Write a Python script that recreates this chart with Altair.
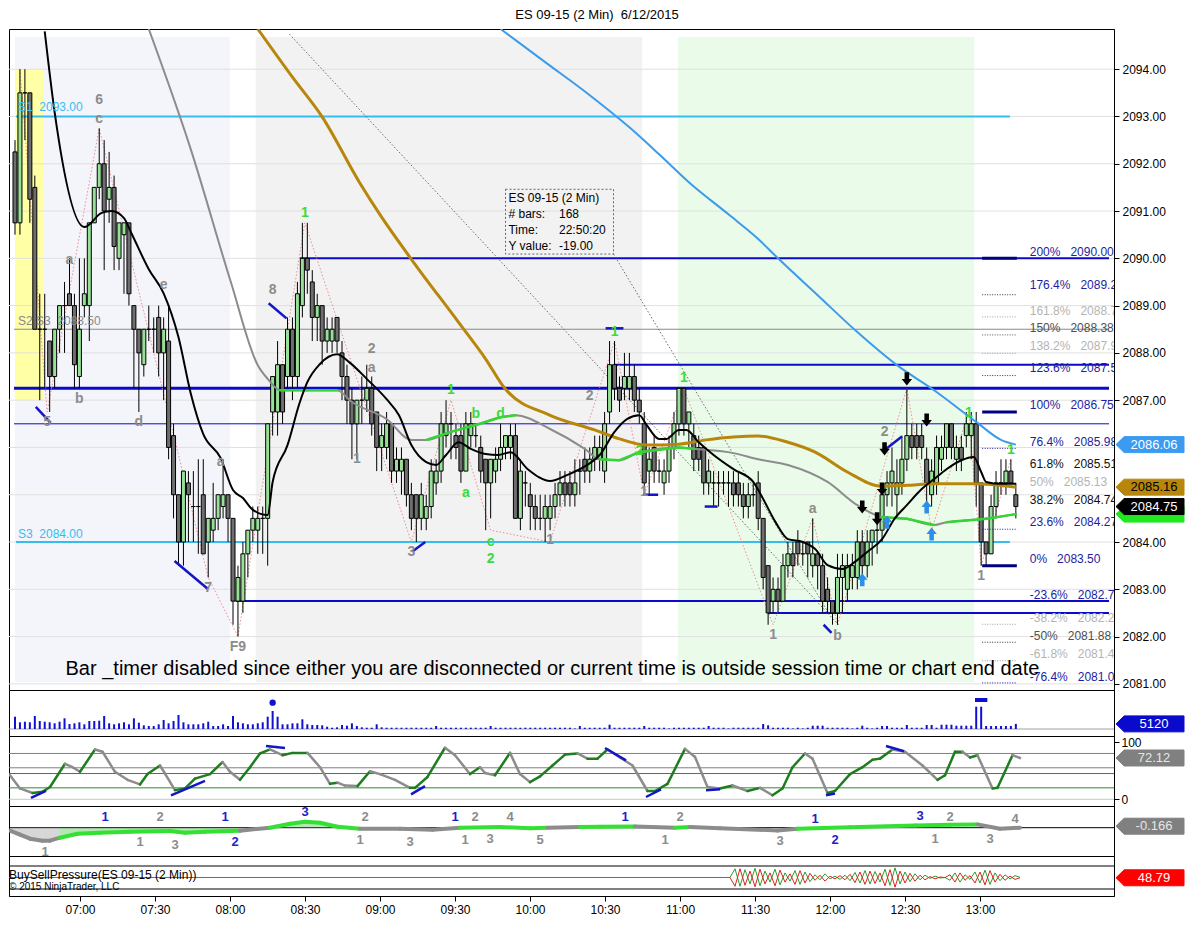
import altair as alt
import pandas as pd

DAY = "2015-06-12 "
FONT = "Liberation Sans"
W = 1105
SP = "\u00a0\u00a0\u00a0"

# 2-minute ES bars, first bar 06:32
bar_open = [
    2092.25, 2090.75, 2093.5, 2093.5, 2091.5, 2088.5, 2088.5, 2088.25, 2087.5, 2088.5,
    2089.0, 2089.25, 2089.0, 2087.5, 2089.0, 2089.0, 2090.75, 2091.5, 2092.0, 2091.25,
    2091.5, 2090.0, 2090.5, 2090.75, 2089.0, 2088.5, 2087.75, 2088.5, 2088.5, 2088.75,
    2088.0, 2088.25, 2086.25, 2085.0, 2084.0, 2085.25, 2084.75, 2084.75, 2085.0, 2084.0,
    2084.25, 2084.5, 2084.75, 2085.0, 2084.5, 2082.75, 2082.75, 2083.75, 2084.25, 2084.25,
    2084.5, 2084.5, 2086.75, 2086.75, 2087.75, 2087.5, 2088.5, 2087.5, 2089.0, 2090.0,
    2089.5, 2088.75, 2089.0, 2088.25, 2088.25, 2088.75, 2088.0, 2087.5, 2087.0, 2086.5,
    2087.0, 2087.0, 2087.25, 2086.75, 2086.0, 2086.0, 2086.5, 2085.5, 2085.5, 2085.75,
    2085.0, 2085.0, 2084.5, 2084.5, 2084.75, 2085.25, 2085.5, 2086.25, 2086.5, 2086.25,
    2086.25, 2085.5, 2086.25, 2086.25, 2086.0, 2085.75, 2085.25, 2085.5, 2085.75, 2086.0,
    2086.0, 2086.25, 2084.5, 2085.25, 2085.0, 2084.75, 2084.5, 2084.5, 2084.5, 2084.75,
    2085.0, 2085.25, 2085.25, 2085.0, 2085.5, 2085.75, 2085.5, 2085.75, 2085.75, 2085.5,
    2086.75, 2087.75, 2087.25, 2087.25, 2087.25, 2087.5, 2087.0, 2086.5, 2085.5, 2086.0,
    2085.5, 2085.25, 2085.5, 2086.0, 2086.5, 2087.25, 2086.5, 2086.25, 2086.0, 2086.0,
    2085.25, 2085.25, 2085.25, 2085.25, 2085.25, 2085.25, 2085.25, 2085.0, 2084.75, 2085.0,
    2085.25, 2084.5, 2083.5, 2082.75, 2083.0, 2082.75, 2083.5, 2083.75, 2084.0, 2083.75,
    2084.0, 2083.5, 2083.75, 2083.5, 2083.0, 2082.75, 2082.5, 2083.25, 2083.0, 2083.25,
    2083.25, 2084.0, 2083.5, 2084.0, 2084.25, 2084.25, 2085.0, 2085.25, 2085.0, 2085.25,
    2085.75, 2086.25, 2086.25, 2086.25, 2085.75, 2085.0, 2085.25, 2085.75, 2086.0, 2086.5,
    2085.75, 2086.0, 2086.25, 2086.25, 2086.5, 2085.25, 2084.0, 2083.75, 2084.75, 2085.25,
    2085.25, 2085.5, 2085.0,
]
bar_high = [
    2092.5, 2094.0, 2094.0, 2093.5, 2091.75, 2089.25, 2089.25, 2088.25, 2088.5, 2089.0,
    2089.5, 2090.0, 2089.25, 2090.0, 2090.0, 2090.75, 2091.5, 2092.75, 2092.5, 2092.25,
    2091.75, 2090.75, 2090.75, 2090.75, 2089.0, 2088.5, 2088.5, 2089.0, 2088.75, 2089.0,
    2088.75, 2089.0, 2086.5, 2085.0, 2085.5, 2085.5, 2085.5, 2085.75, 2085.75, 2084.5,
    2085.25, 2085.0, 2085.75, 2085.0, 2084.5, 2083.5, 2084.0, 2084.25, 2084.75, 2084.75,
    2084.75, 2086.5, 2087.5, 2088.25, 2087.75, 2088.75, 2088.75, 2089.5, 2090.75, 2090.75,
    2089.75, 2089.25, 2089.0, 2088.75, 2088.75, 2088.75, 2088.25, 2087.75, 2087.25, 2087.0,
    2087.5, 2087.75, 2087.5, 2086.75, 2086.5, 2086.75, 2086.5, 2086.0, 2086.0, 2085.75,
    2085.25, 2085.0, 2085.25, 2085.0, 2085.75, 2085.75, 2086.75, 2087.0, 2086.75, 2086.5,
    2086.5, 2086.75, 2086.75, 2086.5, 2086.25, 2085.75, 2085.75, 2086.0, 2086.5, 2086.25,
    2086.5, 2086.5, 2085.75, 2085.5, 2085.25, 2085.0, 2085.0, 2085.0, 2085.0, 2085.25,
    2085.5, 2085.5, 2085.5, 2085.75, 2085.75, 2086.0, 2086.0, 2086.25, 2086.25, 2086.75,
    2088.25, 2088.25, 2087.5, 2088.0, 2088.0, 2087.75, 2087.25, 2086.75, 2086.0, 2086.25,
    2085.75, 2085.75, 2086.25, 2086.75, 2087.25, 2087.25, 2086.75, 2086.5, 2086.25, 2086.0,
    2085.75, 2085.5, 2085.5, 2085.5, 2085.5, 2085.5, 2085.5, 2085.25, 2085.25, 2085.25,
    2085.5, 2084.5, 2083.5, 2083.25, 2083.25, 2083.75, 2084.0, 2084.0, 2084.25, 2084.0,
    2084.0, 2084.5, 2083.75, 2083.75, 2083.25, 2082.75, 2083.75, 2083.75, 2083.75, 2083.75,
    2084.25, 2084.25, 2084.25, 2084.25, 2084.5, 2085.25, 2085.5, 2086.0, 2085.75, 2086.25,
    2087.25, 2086.5, 2086.5, 2086.5, 2086.0, 2085.75, 2086.25, 2086.25, 2086.5, 2086.5,
    2086.25, 2086.25, 2086.75, 2086.75, 2086.75, 2085.25, 2084.0, 2085.0, 2085.5, 2085.75,
    2085.75, 2085.75, 2085.25,
]
bar_low = [
    2090.5, 2090.5, 2092.5, 2090.75, 2088.5, 2087.0, 2087.25, 2086.75, 2087.25, 2088.0,
    2088.0, 2089.0, 2087.25, 2087.25, 2088.75, 2088.25, 2090.75, 2091.25, 2089.75, 2090.75,
    2089.75, 2089.75, 2089.25, 2089.0, 2087.25, 2086.75, 2087.5, 2088.25, 2088.0, 2087.5,
    2087.0, 2085.75, 2084.5, 2083.5, 2083.5, 2084.0, 2084.0, 2083.75, 2083.75, 2083.25,
    2084.0, 2084.25, 2084.5, 2084.0, 2082.25, 2082.0, 2082.5, 2083.25, 2084.0, 2083.75,
    2083.75, 2083.5, 2086.25, 2086.25, 2086.5, 2087.25, 2087.0, 2087.25, 2088.75, 2089.25,
    2088.25, 2088.25, 2087.75, 2088.0, 2088.0, 2088.0, 2087.0, 2086.5, 2085.75, 2085.75,
    2086.5, 2086.75, 2086.25, 2085.5, 2085.5, 2085.75, 2085.25, 2085.25, 2085.0, 2084.75,
    2084.25, 2084.0, 2084.25, 2084.25, 2084.5, 2085.0, 2085.25, 2086.0, 2085.75, 2085.75,
    2085.25, 2085.5, 2086.0, 2086.0, 2085.25, 2084.25, 2084.5, 2085.25, 2085.5, 2085.75,
    2085.75, 2084.5, 2084.25, 2084.75, 2084.25, 2084.25, 2084.25, 2084.0, 2084.25, 2084.5,
    2084.75, 2084.75, 2084.75, 2084.75, 2085.0, 2085.25, 2085.25, 2085.5, 2085.5, 2085.25,
    2086.5, 2087.0, 2086.75, 2087.0, 2087.0, 2086.75, 2086.5, 2085.0, 2085.0, 2085.25,
    2085.25, 2085.0, 2085.25, 2085.75, 2086.25, 2086.25, 2086.0, 2085.5, 2085.5, 2085.0,
    2085.0, 2084.75, 2084.75, 2085.0, 2084.75, 2084.75, 2084.75, 2084.5, 2084.5, 2084.75,
    2084.25, 2083.0, 2082.25, 2082.5, 2082.5, 2082.75, 2083.25, 2083.25, 2083.5, 2083.5,
    2083.25, 2083.25, 2083.0, 2082.5, 2082.5, 2082.25, 2082.25, 2082.5, 2082.75, 2083.0,
    2083.0, 2083.25, 2083.25, 2083.5, 2083.75, 2084.0, 2084.75, 2084.75, 2084.5, 2085.0,
    2085.5, 2085.75, 2085.75, 2085.75, 2084.75, 2084.75, 2085.0, 2085.5, 2085.75, 2085.75,
    2085.5, 2085.5, 2086.0, 2085.75, 2084.75, 2083.5, 2083.5, 2083.75, 2084.5, 2085.0,
    2085.0, 2085.25, 2084.5,
]
bar_close = [
    2090.75, 2093.5, 2093.5, 2091.25, 2088.5, 2088.5, 2088.5, 2087.5, 2088.5, 2089.0,
    2089.0, 2089.0, 2087.75, 2088.5, 2089.25, 2090.75, 2091.5, 2092.0, 2091.0, 2091.5,
    2090.25, 2090.75, 2090.75, 2089.25, 2088.5, 2088.0, 2088.5, 2088.5, 2088.5, 2088.0,
    2088.5, 2086.0, 2085.0, 2084.0, 2085.5, 2085.0, 2084.75, 2084.75, 2083.75, 2084.5,
    2084.5, 2085.0, 2085.0, 2084.5, 2082.75, 2083.25, 2083.75, 2084.25, 2084.5, 2084.5,
    2084.5, 2086.5, 2087.5, 2087.75, 2086.75, 2088.5, 2087.5, 2089.25, 2090.0, 2089.75,
    2088.75, 2089.0, 2088.25, 2088.5, 2088.5, 2088.25, 2087.5, 2087.0, 2086.5, 2087.0,
    2087.0, 2087.25, 2086.5, 2086.0, 2086.25, 2086.5, 2085.5, 2085.75, 2085.75, 2085.0,
    2084.5, 2084.5, 2085.0, 2084.75, 2085.5, 2085.5, 2086.5, 2086.5, 2086.5, 2086.0,
    2085.5, 2086.5, 2086.5, 2086.25, 2085.5, 2085.25, 2085.75, 2085.75, 2086.0, 2086.25,
    2086.25, 2084.5, 2085.5, 2085.25, 2084.75, 2084.5, 2084.5, 2084.75, 2084.75, 2085.0,
    2085.25, 2085.0, 2085.0, 2085.25, 2085.5, 2085.5, 2085.75, 2086.0, 2086.0, 2086.5,
    2087.75, 2087.25, 2087.0, 2087.5, 2087.5, 2087.0, 2086.75, 2085.25, 2085.75, 2085.5,
    2085.5, 2085.5, 2086.0, 2086.5, 2087.25, 2086.5, 2086.75, 2085.75, 2085.75, 2085.25,
    2085.5, 2085.25, 2085.25, 2085.25, 2085.25, 2085.0, 2085.0, 2084.75, 2085.0, 2085.0,
    2084.5, 2083.25, 2082.5, 2083.0, 2082.75, 2083.5, 2083.75, 2083.5, 2083.75, 2083.75,
    2083.75, 2083.75, 2083.5, 2082.75, 2082.75, 2082.5, 2083.25, 2083.5, 2083.5, 2083.5,
    2084.0, 2083.5, 2084.0, 2084.25, 2084.25, 2085.0, 2085.25, 2085.5, 2085.25, 2085.75,
    2086.25, 2086.0, 2086.0, 2086.0, 2085.25, 2085.5, 2086.0, 2086.0, 2086.5, 2086.0,
    2086.0, 2085.75, 2086.5, 2086.5, 2085.25, 2084.0, 2083.75, 2084.75, 2085.25, 2085.25,
    2085.5, 2085.25, 2084.75,
]
bar_volume = [
    12300, 6700, 7300, 6700, 13000, 8000, 7300, 6700, 5700, 7300,
    10700, 5000, 5700, 6700, 4700, 8000, 8000, 8300, 13000, 5700,
    4700, 5700, 6700, 4700, 10700, 6300, 3700, 3000, 3000, 4700,
    9000, 5700, 8000, 14000, 6700, 4700, 4700, 4700, 5700, 7300,
    3000, 3000, 4700, 3000, 13000, 6700, 5700, 4700, 4700, 5700,
    6700, 12300, 18000, 12300, 4700, 4700, 5700, 5700, 9700, 4700,
    4000, 4000, 3700, 2300, 1300, 1700, 4000, 3300, 5700, 3000,
    1700, 1300, 1300, 4700, 1700, 1300, 1300, 1300, 1300, 1300,
    1300, 1300, 1300, 1300, 1300, 3000, 1300, 1300, 1300, 1300,
    1300, 1300, 1300, 1300, 1300, 1300, 3000, 1300, 1300, 1300,
    1300, 1300, 1300, 1300, 1300, 1300, 1300, 1300, 1300, 1300,
    1300, 1300, 1300, 600, 3000, 1300, 1300, 1300, 1300, 1300,
    4300, 1300, 1300, 1300, 1300, 1300, 1300, 3000, 1300, 1300,
    1300, 1300, 600, 1300, 1300, 1300, 1300, 1300, 1300, 1300,
    3000, 1300, 1300, 1300, 600, 1300, 1300, 1300, 1300, 1300,
    1300, 5000, 3700, 1300, 1300, 1300, 1300, 600, 1300, 600,
    1300, 3300, 3300, 3300, 1300, 1300, 1300, 1300, 1300, 600,
    1300, 3300, 1300, 600, 1300, 3000, 3000, 1300, 1300, 1300,
    4000, 1300, 1300, 1300, 4000, 4000, 1300, 4300, 4300, 4300,
    3300, 3300, 3300, 3300, 22300, 22300, 3000, 3000, 3000, 3000,
    3000, 3000, 5120,
]

# moving averages
black_t = ["06:44", "06:48", "07:00", "07:07", "07:11", "07:16", "07:19", "07:26", "07:32", "07:38",
           "07:43", "07:48", "07:55", "08:00", "08:04", "08:08", "08:14", "08:16", "08:22", "08:27",
           "08:30", "08:35", "08:42", "08:47", "08:54", "09:02", "09:07", "09:12", "09:18", "09:22",
           "09:26", "09:31", "09:36", "09:42", "09:47", "09:52", "09:59", "10:08", "10:15", "10:23",
           "10:28", "10:34", "10:39", "10:44", "10:47", "10:52", "10:55", "11:00", "11:03", "11:08",
           "11:14", "11:22", "11:30", "11:34", "11:39", "11:44", "11:50", "11:55", "12:00", "12:06",
           "12:11", "12:16", "12:22", "12:27", "12:32", "12:38", "12:43", "12:48", "12:54", "12:59",
           "13:02", "13:04", "13:10", "13:16"]
black_p = [2094.8, 2093.09, 2090.66, 2090.96, 2091.0, 2090.85, 2090.53, 2089.77, 2089.26, 2088.33,
           2087.13, 2086.28, 2085.78, 2085.1, 2084.93, 2084.68, 2084.57, 2085.27, 2086.05, 2086.96,
           2087.38, 2087.76, 2087.97, 2087.8, 2087.45, 2087.02, 2086.68, 2086.05, 2085.69, 2085.63,
           2085.84, 2086.11, 2085.97, 2085.86, 2085.84, 2085.9, 2085.54, 2085.29, 2085.42, 2085.63,
           2085.84, 2086.33, 2086.6, 2086.68, 2086.47, 2086.18, 2086.18, 2086.37, 2086.37, 2086.11,
           2085.84, 2085.54, 2085.27, 2084.91, 2084.42, 2084.06, 2084.0, 2083.85, 2083.51, 2083.43,
           2083.58, 2083.79, 2084.06, 2084.49, 2084.78, 2085.12, 2085.33, 2085.54, 2085.73, 2085.8,
           2085.48, 2085.27, 2085.23, 2085.23]
gold_t = ["08:10", "08:24", "08:36", "08:51", "09:00", "09:12", "09:31", "09:42", "09:50", "10:08",
          "10:26", "10:36", "10:47", "11:00", "11:11", "11:22", "11:32", "11:44", "11:55", "12:08",
          "12:22", "12:32", "12:43", "12:59", "13:16"]
gold_p = [2094.85, 2093.83, 2092.99, 2091.61, 2090.87, 2089.98, 2088.65, 2087.87, 2087.23, 2086.68,
          2086.37, 2086.18, 2086.05, 2086.07, 2086.16, 2086.22, 2086.24, 2086.11, 2085.9, 2085.48,
          2085.18, 2085.2, 2085.23, 2085.23, 2085.16]
gray_t = ["07:26", "07:43", "07:59", "08:10", "08:14", "08:19", "08:30", "08:42", "08:48", "09:02",
          "09:12", "09:18", "09:28", "09:39", "09:48", "09:54", "10:08", "10:22", "10:28", "10:36",
          "10:44", "11:00", "11:06", "11:22", "11:32", "11:44", "12:00", "12:12", "12:22", "12:32",
          "12:43", "12:48", "13:04", "13:16"]
gray_p = [2094.85, 2092.3, 2089.52, 2087.74, 2087.45, 2087.21, 2087.21, 2087.21, 2086.96, 2086.6,
          2086.16, 2086.16, 2086.33, 2086.49, 2086.64, 2086.68, 2086.39, 2085.97, 2085.75, 2085.73,
          2085.9, 2086.0, 2085.97, 2085.88, 2085.75, 2085.63, 2085.27, 2084.78, 2084.53, 2084.49,
          2084.36, 2084.42, 2084.49, 2084.59]
gray_green_spans = [("08:19", "08:40"), ("09:18", "09:54"), ("10:28", "11:06"),
                    ("12:22", "12:40"), ("12:48", "13:16")]
blue_t = ["09:48", "10:06", "10:24", "10:40", "10:52", "11:04", "11:20", "11:32", "11:40", "11:56",
          "12:12", "12:28", "12:43", "13:00", "13:10", "13:16"]
blue_p = [2094.85, 2094.15, 2093.45, 2092.77, 2092.2, 2091.61, 2090.93, 2090.41, 2090.0, 2089.22,
          2088.44, 2087.74, 2087.21, 2086.54, 2086.16, 2086.06]

# swing zigzag
zz_t = ["06:34", "06:45", "07:06", "07:50", "08:02", "08:29", "09:12", "09:28", "09:44", "10:08",
        "10:34", "10:46", "11:02", "11:38", "11:54", "12:04", "12:32", "12:42", "12:57", "13:02", "13:14"]
zz_p = [2094.0, 2086.75, 2092.75, 2083.25, 2082.0, 2090.75, 2084.0, 2087.0, 2084.25, 2084.0,
        2088.25, 2085.0, 2087.25, 2082.25, 2084.5, 2082.25, 2087.25, 2084.25, 2086.75, 2083.5, 2085.75]

# horizontal levels
lvl_p = [2093.0, 2084.0, 2088.5, 2087.25, 2086.5, 2090.0, 2087.75, 2082.75, 2082.5]
lvl_t0 = ["06:32:24", "06:32:24", "06:31:36", "06:31:36", "06:31:36", "08:27", "10:34", "08:01", "11:36"]
lvl_t1 = ["13:13:36", "13:13:36"] + ["13:53:36"] * 7
lvl_col = ["#35BDF0", "#35BDF0", "#8A8A8A", "#0A0ACD", "#0A0ACD", "#0A0ACD", "#0A0ACD", "#0A0ACD", "#0A0ACD"]
lvl_w = [2, 2, 1, 3, 1, 2, 2, 2, 2]

s_text = ["S1\u00a0\u00a02093.00", "S2 S3\u00a0\u00a02088.50", "S3\u00a0\u00a02084.00"]
s_time = ["06:33:12", "06:33:12", "06:33:12"]
s_price = [2093.2, 2088.67, 2084.17]
s_col = ["#35BDF0", "#8A8A8A", "#35BDF0"]

# fibonacci extension
fib_pct = ["200%", "176.4%", "161.8%", "150%", "138.2%", "123.6%", "100%", "76.4%", "61.8%", "50%",
           "38.2%", "23.6%", "0%", "-23.6%", "-38.2%", "-50%", "-61.8%", "-76.4%"]
fib_val = ["2090.00", "2089.23", "2088.76", "2088.38", "2087.99", "2087.52", "2086.75", "2085.98",
           "2085.51", "2085.13", "2084.74", "2084.27", "2083.50", "2082.73", "2082.26", "2081.88",
           "2081.49", "2081.02"]
fib_label_p = [2090.13, 2089.43, 2088.88, 2088.52, 2088.14, 2087.68, 2086.9, 2086.11, 2085.65, 2085.27,
               2084.89, 2084.42, 2083.64, 2082.88, 2082.39, 2082.01, 2081.63, 2081.15]
fib_col = ["#1E1EA0", "#1E1EA0", "#B4B4B4", "#505050", "#B4B4B4", "#1E1EA0", "#1E1EA0", "#1E1EA0",
           "#101010", "#B4B4B4", "#101010", "#1E1EA0", "#1E1EA0", "#1E1EA0", "#B4B4B4", "#505050",
           "#B4B4B4", "#1E1EA0"]
fib_major = [2090.0, 2086.75, 2083.5]
fib_minor = [2089.23, 2088.76, 2088.38, 2087.99, 2087.52, 2085.98, 2084.27, 2082.26, 2081.88, 2081.49, 2081.02]
fib_minor_col = ["#333333", "#A0A0A0", "#555555", "#A0A0A0", "#333333", "#1E1EA0", "#1E1EA0",
                 "#A0A0A0", "#333333", "#A0A0A0", "#1E1EA0"]

# chart annotations
ann_text = ["6", "c", "a", "b", "5", "d", "e", "a", "7", "F9", "8", "1", "2", "a", "1", "1", "b", "d",
            "a", "3", "c", "2", "1", "2", "1", "1", "2", "1", "1", "a", "b", "2", "1", "1", "1"]
ann_time = ["07:06", "07:06", "06:54", "06:58", "06:45", "07:22", "07:32", "07:55", "07:50", "08:02",
            "08:16", "08:29", "08:56", "08:56", "08:50", "09:28", "09:38", "09:48", "09:34", "09:12",
            "09:44", "09:44", "10:08", "10:24", "10:34", "10:46", "10:44", "11:02", "11:38", "11:54",
            "12:04", "12:23", "12:57", "13:02", "13:14"]
ann_price = [2093.34, 2092.94, 2089.96, 2087.02, 2086.54, 2086.54, 2089.43, 2085.69, 2083.03, 2081.78,
             2089.33, 2090.96, 2088.08, 2087.68, 2085.75, 2087.21, 2086.71, 2086.71, 2085.04, 2083.79,
             2084.0, 2083.64, 2084.04, 2087.09, 2088.44, 2085.06, 2085.92, 2087.47, 2082.03, 2084.7,
             2082.01, 2086.33, 2086.73, 2083.28, 2085.94]
ann_green = ["n", "n", "n", "n", "n", "n", "n", "n", "n", "n", "n", "y", "n", "n", "n", "y", "y", "y",
             "y", "n", "y", "y", "n", "n", "y", "n", "y", "y", "n", "n", "n", "n", "y", "n", "y"]

div_t0 = ["06:40:24", "07:36:24", "08:14:24", "09:12:24", "10:30:24", "10:45:36", "11:10:24", "11:58:24", "12:22:24"]
div_t1 = ["06:46:24", "07:50:00", "08:21:36", "09:17:36", "10:37:36", "10:51:36", "11:15:36", "12:01:36", "12:30:00"]
div_p0 = [2086.86, 2083.6, 2089.05, 2083.8, 2088.52, 2085.0, 2084.75, 2082.25, 2085.92]
div_p1 = [2086.52, 2083.0, 2088.73, 2084.0, 2088.52, 2085.0, 2084.75, 2082.08, 2086.23]

diag_t0 = ["08:22:48", "10:33:36"]
diag_t1 = ["12:04:24", "12:00:24"]
diag_p0 = [2094.74, 2090.09]
diag_p1 = [2082.25, 2082.5]

dn_t = ["12:32", "12:23", "12:40", "12:14", "12:20", "12:22"]
dn_p = [2087.45, 2085.97, 2086.58, 2084.74, 2084.49, 2085.12]
up_t = ["12:14", "12:24", "12:40", "12:42"]
up_p = [2083.2, 2084.42, 2084.74, 2084.17]

shade_t0 = ["06:32:00", "08:09:12", "10:59:36", "06:32:00"]
shade_t1 = ["07:58:48", "10:45:12", "12:59:12", "06:43:36"]
shade_p0 = [2081.04, 2081.04, 2081.04, 2087.0]
shade_p1 = [2094.68, 2094.68, 2094.68, 2094.0]
shade_col = ["#F4F4FB", "#F2F2F2", "#EAFBEA", "#FFFFA6"]

info_lines = ["ES 09-15 (2 Min)", "# bars:", "Time:", "Y value:"]
info_vals = ["", "168", "22:50:20", "-19.00"]
info_p = [2091.27, 2090.93, 2090.6, 2090.26]

price_tags = [2084.59, 2086.06, 2085.16, 2084.75]
price_tag_text = ["", "2086.06", "2085.16", "2084.75"]
price_tag_bg = ["#22E822", "#3A9BF0", "#B8860B", "#000000"]
price_tag_fg = ["#000000", "#FFFFFF", "#000000", "#FFFFFF"]

# stochastics
sto_t = ["06:32", "06:36", "06:41", "06:45", "06:48", "06:54", "06:57", "07:00", "07:06", "07:09",
         "07:14", "07:19", "07:24", "07:27", "07:32", "07:34", "07:38", "07:42", "07:46", "07:52",
         "07:57", "08:00", "08:04", "08:08", "08:12", "08:16", "08:21", "08:25", "08:31", "08:36",
         "08:40", "08:43", "08:46", "08:51", "08:56", "09:00", "09:06", "09:12", "09:14", "09:19",
         "09:26", "09:30", "09:36", "09:40", "09:42", "09:46", "09:52", "09:56", "10:00", "10:04",
         "10:09", "10:14", "10:19", "10:23", "10:27", "10:31", "10:36", "10:41", "10:47", "10:50",
         "10:55", "11:02", "11:06", "11:11", "11:16", "11:21", "11:27", "11:32", "11:37", "11:41",
         "11:45", "11:50", "11:53", "11:59", "12:02", "12:08", "12:13", "12:17", "12:20", "12:25",
         "12:30", "12:37", "12:43", "12:46", "12:50", "12:53", "12:56", "12:59", "13:05", "13:07",
         "13:13", "13:16"]
sto_v = [42, 19, 11, 13, 21.5, 62, 56, 48, 87, 83, 48, 34, 26, 44, 59, 45, 16, 19, 36, 44,
         65, 48, 34, 56, 80, 87, 77, 81, 81, 56, 27, 29, 24, 23, 49, 44, 34, 20, 20, 39,
         90, 77, 44, 56, 46, 42, 81, 44, 30, 40, 59, 78, 80, 71, 71, 87, 73, 59, 14.5, 14.5,
         27, 88, 74, 21.5, 19, 24, 14.5, 20, 7, 19, 56, 80, 71, 11, 14.5, 44, 56, 69, 71, 87,
         83, 59, 34, 42, 83, 83, 73, 77, 19, 20, 77, 72.12]
sto_levels = [80, 55, 45, 20, 0]
sto_level_col = ["#808080", "#808080", "#2E8B2E", "#2E8B2E", "#C8C8C8"]
sto_div_t0 = ["06:40:24", "07:36:24", "08:14:24", "09:12:24", "10:30:00", "10:46:24", "11:10:24", "11:58:24", "12:22:24"]
sto_div_t1 = ["06:46:24", "07:50:00", "08:22:00", "09:18:00", "10:38:24", "10:52:24", "11:16:00", "12:02:00", "12:29:36"]
sto_div_v0 = [2.3, 7, 93, 8.7, 89.5, 4, 15.7, 7, 93]
sto_div_v1 = [14.5, 32, 89.5, 23, 68, 17.4, 17.4, 10, 84]

# macd-style oscillator (values in chart units)
macd_t = ["06:32", "06:36", "06:40", "06:45", "06:48", "06:52", "06:59", "07:08", "07:20", "07:36",
          "07:42", "07:50", "08:04", "08:16", "08:24", "08:30", "08:36", "08:43", "08:52", "09:08",
          "09:21", "09:32", "09:48", "10:00", "10:07", "10:20", "10:28", "10:42", "10:58", "11:04",
          "11:16", "11:39", "11:47", "12:08", "12:34", "12:48", "12:59", "13:08", "13:16"]
macd_v = [-3, -7, -11, -13, -13, -10, -6, -5, -4, -3.3, -5, -4, -3, 0, 4, 6, 5, 1, -1, -1,
          -2, 0, 0.7, -0.5, 0, 0.7, 1, 1.3, 0, 0.7, -0.5, -2.7, -1, 0.5, 2.3, 3, 3.3, -1, 0]
macd_lime = [("06:52", "07:56"), ("08:10", "08:44"), ("09:30", "10:04"), ("10:18", "10:42"),
             ("10:58", "11:04"), ("11:47", "12:59")]
macd_lab = ["1", "2", "1", "3", "1", "2", "3", "2", "1", "3", "1", "2", "4", "1", "3", "5", "1", "2",
            "1", "3", "1", "2", "3", "2", "1", "3", "4", "1"]
macd_lab_t = ["07:10", "07:32", "07:24", "07:38", "07:58", "08:02", "08:30", "08:54", "08:52", "09:12",
              "09:30", "09:38", "09:52", "09:34", "09:44", "10:04", "10:38", "11:00", "10:54", "11:40",
              "11:54", "12:02", "12:36", "12:48", "12:42", "13:04", "13:14", "06:46"]
macd_lab_v = [10.7, 10.7, -14.3, -17.3, 10.7, -14.3, 16, 10.7, -12.3, -14.3, 10.7, 10.7, 10.7, -12.3,
              -11.3, -12.3, 10.7, 10.7, -12.3, -13.3, 8.7, -12.3, 11.7, 10.7, -11.3, -11.3, 8.7, -24]
macd_lab_blue = ["y", "n", "n", "n", "y", "y", "y", "n", "n", "n", "y", "n", "n", "n", "n", "n", "y", "n",
                 "n", "n", "y", "y", "y", "n", "n", "n", "n", "n"]

# buy/sell pressure, bars from 11:20
bsp_start = "11:20"
bsp_buy = [50, 88, 12, 84, 22, 90, 14, 78, 30, 86, 18, 70, 34, 80, 20, 74, 32, 62, 40, 66,
           44, 56, 42, 60, 36, 72, 26, 80, 22, 76, 30, 86, 16, 92, 22, 74, 32, 66, 40, 60,
           46, 56, 48, 50, 38, 70, 30, 62, 42, 74, 26, 82, 20, 70, 36, 62, 44, 58, 51.21]
bsp_sell = [50, 12, 88, 16, 78, 10, 86, 22, 70, 14, 82, 30, 66, 20, 80, 26, 68, 38, 60, 34,
            56, 44, 58, 40, 64, 28, 74, 20, 78, 24, 70, 14, 84, 8, 78, 26, 68, 34, 60, 40,
            54, 44, 52, 50, 62, 30, 70, 38, 58, 26, 74, 18, 80, 30, 64, 38, 56, 42, 48.79]

tick_times = ["07:00", "07:30", "08:00", "08:30", "09:00", "09:30", "10:00", "10:30",
              "11:00", "11:30", "12:00", "12:30", "13:00"]
# axis labels that sit under the price tags are not visible in the original
price_axis_values = [2081, 2082, 2083, 2084, 2087, 2088, 2089, 2090, 2091, 2092, 2093, 2094]


def ts(s):
    return pd.Timestamp(DAY + s)


def dt(s):
    parts = [int(v) for v in s.split(":")] + [0]
    return alt.DateTime(year=2015, month=6, date=12, hours=parts[0], minutes=parts[1], seconds=parts[2])


def in_spans(s, spans):
    return any(ts(a) <= ts(s) < ts(b) for a, b in spans)


def segs(times, vals, cols):
    return pd.DataFrame({"t": [ts(s) for s in times[:-1]], "t2": [ts(s) for s in times[1:]],
                         "p": vals[:-1], "p2": vals[1:], "col": cols})


x_scale = alt.Scale(domain=[dt("06:31:36"), dt("13:53:36")])


def xe(f="t", axis=None):
    return alt.X(f + ":T", scale=x_scale, axis=axis)


TAG = "M-1,0L-0.76,-0.235L1,-0.235L1,0.235L-0.76,0.235Z"
DOWN = "M-0.35,-1L0.35,-1L0.35,0L0.8,0L0,1L-0.8,0L-0.35,0Z"
UP = "M-0.35,1L0.35,1L0.35,0L0.8,0L0,-1L-0.8,0L-0.35,0Z"


def tags(df, yenc):
    box = alt.Chart(df).mark_point(shape=TAG, size=68 * 68, filled=True, opacity=1, strokeWidth=1,
                                   clip=False).encode(
        x=alt.value(W + 36), y=yenc, fill=alt.Fill("bg:N", scale=None), stroke=alt.Stroke("bg:N", scale=None))
    txt = alt.Chart(df).mark_text(font=FONT, fontSize=13, clip=False).encode(
        x=alt.value(W + 40), y=yenc, text="label:N", color=alt.Color("fg:N", scale=None))
    return [box, txt]


# ---------- main price panel ----------
p_scale = alt.Scale(domain=[2080.87, 2094.85], nice=False, zero=False)
p_axis = alt.Axis(orient="right", values=price_axis_values, format=".2f", title=None, grid=False,
                  tickSize=5, tickColor="black", domainColor="black", labelColor="black",
                  labelFont=FONT, labelFontSize=12, labelPadding=3, labelOverlap=False, zindex=0)


def pe(f="p"):
    return alt.Y(f + ":Q", scale=p_scale, axis=p_axis)


candles = pd.DataFrame({"t": pd.date_range(DAY + "06:32", periods=len(bar_open), freq="2min"),
                        "o": bar_open, "h": bar_high, "l": bar_low, "c": bar_close, "vol": bar_volume})
candles["body"] = ["#98E098" if c > o else "#6E6E6E" for o, c in zip(bar_open, bar_close)]

shade_df = pd.DataFrame({"t": [ts(s) for s in shade_t0], "t2": [ts(s) for s in shade_t1],
                         "p": shade_p0, "p2": shade_p1, "col": shade_col})
level_df = pd.DataFrame({"t": [ts(s) for s in lvl_t0], "t2": [ts(s) for s in lvl_t1],
                         "p": lvl_p, "col": lvl_col, "w": lvl_w})
gray_cols = ["green" if in_spans(s, gray_green_spans) else "gray" for s in gray_t[:-1]]
gray_seg = segs(gray_t, gray_p, gray_cols)
gray_seg = gray_seg[gray_seg["col"] == "green"]
fib_df = pd.DataFrame({"t": [ts("13:21:36")] * len(fib_pct), "p": fib_label_p,
                       "s": [a + SP + b for a, b in zip(fib_pct, fib_val)], "col": fib_col})

layers = [
    alt.Chart(shade_df).mark_rect(clip=True).encode(
        x=xe(), x2="t2", y=pe(), y2="p2", fill=alt.Fill("col:N", scale=None)),
    alt.Chart(pd.DataFrame({"p": list(range(2081, 2095))})).mark_rule(color="#E0E0E0").encode(y=pe()),
    alt.Chart(level_df).mark_rule(clip=True).encode(
        x=xe(), x2="t2", y=pe(), color=alt.Color("col:N", scale=None),
        strokeWidth=alt.StrokeWidth("w:Q", scale=None)),
    alt.Chart(pd.DataFrame({"t": [ts(s) for s in zz_t], "p": zz_p})).mark_line(
        color="#F08C8C", strokeDash=[1.5, 2], strokeWidth=1, clip=True).encode(x=xe(), y=pe()),
    alt.Chart(pd.DataFrame({"t": [ts(s) for s in diag_t0], "t2": [ts(s) for s in diag_t1],
                            "p": diag_p0, "p2": diag_p1})).mark_rule(
        color="#444444", strokeDash=[1.5, 2], strokeWidth=0.8, clip=True).encode(
        x=xe(), x2="t2", y=pe(), y2="p2"),
    alt.Chart(candles).mark_rule(color="black", strokeWidth=1, clip=True).encode(x=xe(), y=pe("l"), y2="h"),
    alt.Chart(candles).mark_bar(size=4, stroke="black", strokeWidth=1, clip=True).encode(
        x=xe(), y=pe("o"), y2="c", fill=alt.Fill("body:N", scale=None)),
    alt.Chart(pd.DataFrame({"t": [ts(s) for s in gold_t], "p": gold_p})).mark_line(
        color="#B8860B", strokeWidth=3, interpolate="monotone", clip=True).encode(x=xe(), y=pe()),
    alt.Chart(pd.DataFrame({"t": [ts(s) for s in gray_t], "p": gray_p})).mark_line(
        color="#8C8C8C", strokeWidth=2, interpolate="monotone", clip=True).encode(x=xe(), y=pe()),
    alt.Chart(gray_seg).mark_rule(color="#35D435", strokeWidth=2.5, strokeCap="round", clip=True).encode(
        x=xe(), x2="t2", y=pe(), y2="p2"),
    alt.Chart(pd.DataFrame({"t": [ts(s) for s in blue_t], "p": blue_p})).mark_line(
        color="#3D9BEA", strokeWidth=2, interpolate="monotone", clip=True).encode(x=xe(), y=pe()),
    alt.Chart(pd.DataFrame({"t": [ts(s) for s in black_t], "p": black_p})).mark_line(
        color="black", strokeWidth=2, interpolate="monotone", clip=True).encode(x=xe(), y=pe()),
    alt.Chart(pd.DataFrame({"t": [ts(s) for s in div_t0], "t2": [ts(s) for s in div_t1],
                            "p": div_p0, "p2": div_p1})).mark_rule(
        color="#1414C8", strokeWidth=2.5, clip=True).encode(x=xe(), x2="t2", y=pe(), y2="p2"),
    alt.Chart(pd.DataFrame({"t": [ts("13:02:24")] * 3, "t2": [ts("13:16:24")] * 3, "p": fib_major})).mark_rule(
        color="#000080", strokeWidth=3, clip=True).encode(x=xe(), x2="t2", y=pe()),
    alt.Chart(pd.DataFrame({"t": [ts("13:02:24")] * len(fib_minor), "t2": [ts("13:16:24")] * len(fib_minor),
                            "p": fib_minor, "col": fib_minor_col})).mark_rule(
        strokeDash=[1, 1.5], strokeWidth=1, clip=True).encode(
        x=xe(), x2="t2", y=pe(), color=alt.Color("col:N", scale=None)),
    alt.Chart(fib_df).mark_text(align="left", baseline="middle", font=FONT, fontSize=12, clip=True).encode(
        x=xe(), y=pe(), text="s:N", color=alt.Color("col:N", scale=None)),
    alt.Chart(pd.DataFrame({"t": [ts(s) for s in s_time], "p": s_price, "s": s_text, "col": s_col})).mark_text(
        align="left", baseline="middle", font=FONT, fontSize=12, clip=True).encode(
        x=xe(), y=pe(), text="s:N", color=alt.Color("col:N", scale=None)),
    alt.Chart(pd.DataFrame({"t": [ts(s) for s in ann_time], "p": ann_price, "s": ann_text,
                            "col": ["#3ADB3A" if g == "y" else "#8C8C8C" for g in ann_green]})).mark_text(
        font=FONT, fontSize=14, fontWeight="bold", baseline="middle", clip=True).encode(
        x=xe(), y=pe(), text="s:N", color=alt.Color("col:N", scale=None)),
    alt.Chart(pd.DataFrame({"t": [ts(s) for s in dn_t], "p": dn_p})).mark_point(
        shape=DOWN, size=170, filled=True, color="black", opacity=1, clip=True).encode(x=xe(), y=pe()),
    alt.Chart(pd.DataFrame({"t": [ts(s) for s in up_t], "p": up_p})).mark_point(
        shape=UP, size=170, filled=True, color="#2E8FE8", opacity=1, clip=True).encode(x=xe(), y=pe()),
    alt.Chart(pd.DataFrame({"t": [ts("09:50")], "t2": [ts("10:33:36")], "p": [2091.46], "p2": [2090.09]})).mark_rect(
        fillOpacity=0, stroke="#666666", strokeDash=[2, 2], strokeWidth=1, clip=True).encode(
        x=xe(), x2="t2", y=pe(), y2="p2"),
    alt.Chart(pd.DataFrame({"t": [ts("09:51:12")] * 4, "p": info_p, "s": info_lines})).mark_text(
        align="left", baseline="middle", font=FONT, fontSize=12, color="black", clip=True).encode(
        x=xe(), y=pe(), text="s:N"),
    alt.Chart(pd.DataFrame({"t": [ts("10:11:36")] * 4, "p": info_p, "s": info_vals})).mark_text(
        align="left", baseline="middle", font=FONT, fontSize=12, color="black", clip=True).encode(
        x=xe(), y=pe(), text="s:N"),
    alt.Chart(pd.DataFrame({"t": [ts("06:52:24")], "p": [2081.32],
                            "s": ["Bar _timer disabled since either you are disconnected or current time "
                                  "is outside session time or chart end date"]})).mark_text(
        align="left", baseline="middle", font=FONT, fontSize=20, color="black", clip=True).encode(
        x=xe(), y=pe(), text="s:N"),
    alt.Chart(pd.DataFrame({"s": ["ES 09-15 (2 Min)\u00a0\u00a06/12/2015"]})).mark_text(
        font=FONT, fontSize=13, color="black", baseline="middle").encode(
        x=alt.value(588), y=alt.value(-14), text="s:N"),
]
layers += tags(pd.DataFrame({"p": price_tags, "label": price_tag_text, "bg": price_tag_bg,
                             "fg": price_tag_fg}), pe())
main = alt.layer(*layers).properties(width=W, height=661)

# ---------- volume panel ----------
v_scale = alt.Scale(domain=[-7000, 39000], nice=False, zero=False)


def ve(f="v"):
    return alt.Y(f + ":Q", scale=v_scale, axis=None)


vol = alt.layer(
    alt.Chart(pd.DataFrame({"v": [0]})).mark_rule(color="#A0A0A0").encode(y=ve()),
    alt.Chart(candles).mark_bar(size=2, color="#1010D0", clip=True).encode(x=xe(), y=ve("vol"), y2=alt.datum(0)),
    alt.Chart(pd.DataFrame({"t": [ts("08:16")], "v": [26300]})).mark_circle(
        size=40, color="#1010D0", opacity=1).encode(x=xe(), y=ve()),
    alt.Chart(pd.DataFrame({"t": [ts("12:59:30")], "t2": [ts("13:04:30")], "v": [29000]})).mark_rule(
        color="#1010D0", strokeWidth=4).encode(x=xe(), x2="t2", y=ve()),
    *tags(pd.DataFrame({"v": [5120], "label": ["5120"], "bg": ["#0A0ACD"], "fg": ["#FFFFFF"]}), ve()),
).properties(width=W, height=46)

# ---------- stochastic panel ----------
s_scale = alt.Scale(domain=[-11.7, 110.5], nice=False, zero=False)
s_axis = alt.Axis(orient="right", values=[0, 100], format="d", title=None, grid=False, tickSize=5,
                  tickColor="black", domainColor="black", labelColor="black", labelFont=FONT,
                  labelFontSize=12, labelPadding=2, zindex=0)


def se(f="p"):
    return alt.Y(f + ":Q", scale=s_scale, axis=s_axis)


sto_cols = ["#1E7D1E" if b >= a else "#8C8C8C" for a, b in zip(sto_v[:-1], sto_v[1:])]
sto = alt.layer(
    alt.Chart(pd.DataFrame({"p": sto_levels, "col": sto_level_col})).mark_rule().encode(
        y=se(), color=alt.Color("col:N", scale=None)),
    alt.Chart(segs(sto_t, sto_v, sto_cols)).mark_rule(strokeWidth=2.5, strokeCap="round", clip=True).encode(
        x=xe(), x2="t2", y=se(), y2="p2", color=alt.Color("col:N", scale=None)),
    alt.Chart(pd.DataFrame({"t": [ts(s) for s in sto_div_t0], "t2": [ts(s) for s in sto_div_t1],
                            "p": sto_div_v0, "p2": sto_div_v1})).mark_rule(
        color="#1414C8", strokeWidth=2.5, clip=True).encode(x=xe(), x2="t2", y=se(), y2="p2"),
    *tags(pd.DataFrame({"p": [72.12], "label": ["72.12"], "bg": ["#808080"], "fg": ["#E6E6E6"]}), se()),
).properties(width=W, height=70)

# ---------- macd panel ----------
m_scale = alt.Scale(domain=[-28.3, 21.7], nice=False, zero=False)


def me(f="p"):
    return alt.Y(f + ":Q", scale=m_scale, axis=None)


macd_cols = ["#33E033" if in_spans(s, macd_lime) else "#8C8C8C" for s in macd_t[:-1]]
hatch_rows = []
for i in range(len(macd_t) - 1):
    if ts(macd_t[i]) < ts("08:52"):
        for j in (i, i + 1):
            hatch_rows.append({"t": ts(macd_t[j]), "p": macd_v[j], "seg": i,
                               "col": "#2DB82D" if macd_cols[i] != "#8C8C8C" else "#8C8C8C"})
macd = alt.layer(
    alt.Chart(pd.DataFrame({"p": [0]})).mark_rule(color="black").encode(y=me()),
    alt.Chart(pd.DataFrame(hatch_rows)).mark_area(opacity=0.35, clip=True).encode(
        x=xe(), y=me(), y2=alt.datum(0), detail="seg:N", fill=alt.Fill("col:N", scale=None)),
    alt.Chart(segs(macd_t, macd_v, macd_cols)).mark_rule(strokeWidth=4, strokeCap="round", clip=True).encode(
        x=xe(), x2="t2", y=me(), y2="p2", color=alt.Color("col:N", scale=None)),
    alt.Chart(pd.DataFrame({"t": [ts(s) for s in macd_lab_t], "p": macd_lab_v, "s": macd_lab,
                            "col": ["#1E1EC8" if b == "y" else "#8C8C8C" for b in macd_lab_blue]})).mark_text(
        font=FONT, fontSize=13, fontWeight="bold", baseline="middle", clip=True).encode(
        x=xe(), y=me(), text="s:N", color=alt.Color("col:N", scale=None)),
    *tags(pd.DataFrame({"p": [1.5], "label": ["-0.166"], "bg": ["#808080"], "fg": ["#E6E6E6"]}), me()),
).properties(width=W, height=50)

# ---------- buy/sell pressure panel ----------
b_scale = alt.Scale(domain=[-30.4, 143.5], nice=False, zero=False)
x_axis = alt.Axis(values=[dt(s) for s in tick_times], format="%H:%M", title=None, grid=False, tickSize=5,
                  tickColor="black", domainColor="black", labelColor="black", labelFont=FONT,
                  labelFontSize=12, labelPadding=3, labelFlush=False, labelOverlap=False)


def be(f="p"):
    return alt.Y(f + ":Q", scale=b_scale, axis=None)


bsp_times = pd.date_range(DAY + bsp_start, periods=len(bsp_buy), freq="2min")
bsp = alt.layer(
    alt.Chart(pd.DataFrame({"p": [0, 100]})).mark_rule(color="black").encode(y=be()),
    alt.Chart(pd.DataFrame({"t": [ts("06:31:36")], "t2": [ts(bsp_start)], "p": [50]})).mark_rule(
        color="#2E9B2E").encode(x=xe("t", x_axis), x2="t2", y=be()),
    alt.Chart(pd.DataFrame({"t": bsp_times, "p": bsp_buy})).mark_line(
        color="#2E9B2E", strokeWidth=1, clip=True).encode(x=xe("t", x_axis), y=be()),
    alt.Chart(pd.DataFrame({"t": bsp_times, "p": bsp_sell})).mark_line(
        color="#E02020", strokeWidth=1, clip=True).encode(x=xe("t", x_axis), y=be()),
    alt.Chart(pd.DataFrame({"s": ["BuySellPressure(ES 09-15 (2 Min))"]})).mark_text(
        align="left", baseline="middle", font=FONT, fontSize=12, color="black").encode(
        x=alt.value(0), y=alt.value(19), text="s:N"),
    alt.Chart(pd.DataFrame({"s": ["\u00a9 2015 NinjaTrader, LLC"]})).mark_text(
        align="left", baseline="middle", font=FONT, fontSize=10, color="black").encode(
        x=alt.value(0), y=alt.value(31), text="s:N"),
    *tags(pd.DataFrame({"p": [48.79], "label": ["48.79"], "bg": ["#FF0000"], "fg": ["#FFFFFF"]}), be()),
).properties(width=W, height=40)

chart = alt.vconcat(main, vol, sto, macd, bsp, spacing=0, bounds="flush").properties(
    padding={"left": 0, "top": 0, "right": 0, "bottom": 0}, background="white"
).configure_view(stroke="black", strokeWidth=1)

chart.save("out.html", embed_options={"renderer": "svg", "actions": False})
